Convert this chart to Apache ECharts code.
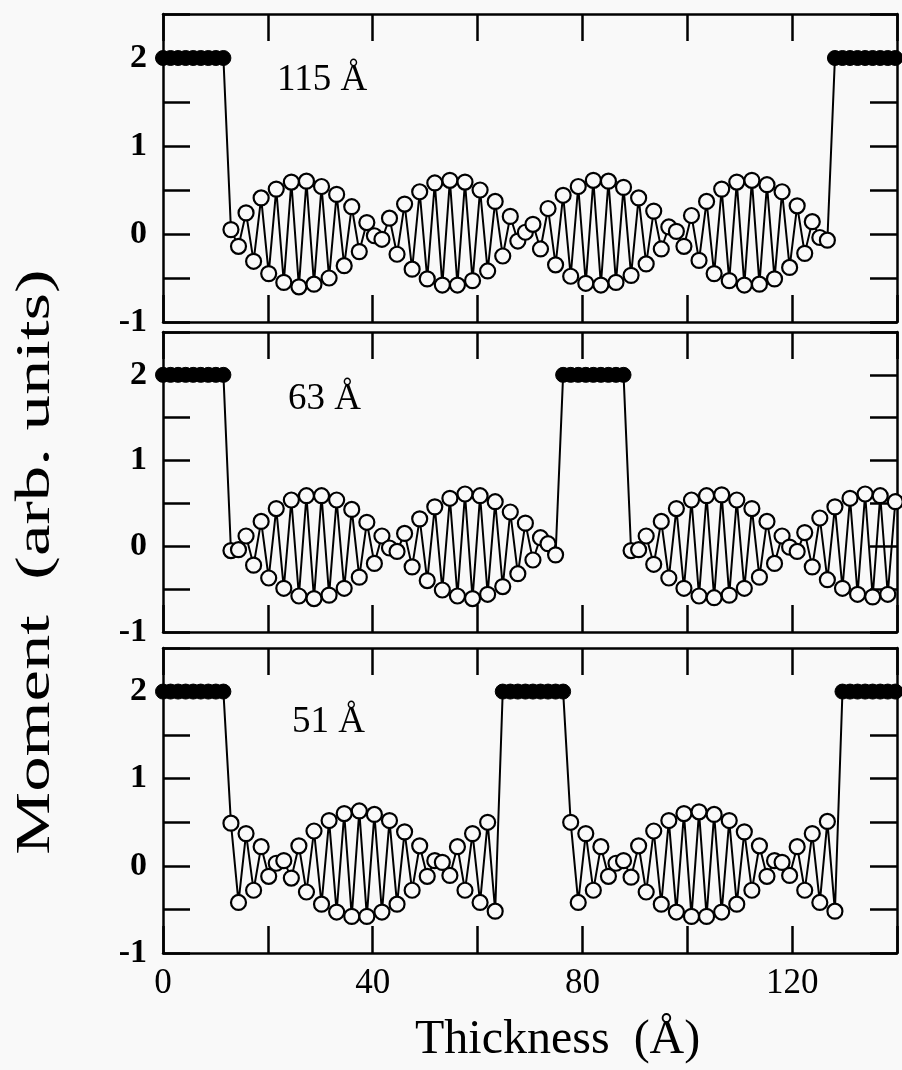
<!DOCTYPE html>
<html>
<head>
<meta charset="utf-8">
<script src="https://cdn.jsdelivr.net/npm/echarts@6/dist/echarts.min.js"></script>
<style>
html,body{margin:0;padding:0;background:#f9f9f9;}
#chart{width:902px;height:1070px;}
</style>
</head>
<body>
<div id="chart"></div>
<script>
// ---- data ----
const MONO = 1.44;                 // monolayer spacing along thickness (Å)
const xTicks = [0, 40, 80, 120];   // labelled thickness ticks
const yTicks = [-1, 0, 1, 2];      // labelled moment ticks
const panelLabels = ['115 Å', '63 Å', '51 Å'];

const fe = [2, 2, 2, 2, 2, 2, 2, 2, 2];   // Fe layer moments

const cr115 = [0.05, -0.14, 0.24, -0.31, 0.41, -0.45, 0.51, -0.55, 0.59, -0.60,
  0.60, -0.57, 0.54, -0.50, 0.45, -0.36, 0.31, -0.20, 0.13, -0.02,
  -0.06, 0.18, -0.23, 0.34, -0.40, 0.48, -0.51, 0.58, -0.58, 0.61,
  -0.58, 0.59, -0.53, 0.50, -0.42, 0.37, -0.25, 0.20, -0.08, 0.02,
  0.11, -0.17, 0.29, -0.35, 0.44, -0.48, 0.54, -0.56, 0.61, -0.58,
  0.60, -0.55, 0.53, -0.47, 0.41, -0.34, 0.26, -0.17, 0.08, 0.03,
  -0.14, 0.21, -0.30, 0.37, -0.45, 0.51, -0.53, 0.59, -0.58, 0.61,
  -0.57, 0.56, -0.51, 0.48, -0.38, 0.32, -0.22, 0.14, -0.04, -0.07];

const cr63a = [-0.05, -0.04, 0.12, -0.22, 0.29, -0.37, 0.44, -0.49, 0.54, -0.58,
  0.59, -0.61, 0.59, -0.57, 0.54, -0.49, 0.43, -0.36, 0.28, -0.20,
  0.12, -0.02, -0.06, 0.15, -0.24, 0.32, -0.40, 0.46, -0.51, 0.56,
  -0.58, 0.61, -0.61, 0.59, -0.56, 0.52, -0.47, 0.40, -0.32, 0.27,
  -0.16, 0.10, 0.03, -0.10];

const cr63b = [-0.05, -0.04, 0.12, -0.21, 0.29, -0.37, 0.44, -0.49, 0.54, -0.58,
  0.59, -0.60, 0.60, -0.57, 0.54, -0.49, 0.44, -0.36, 0.29, -0.20,
  0.12, -0.01, -0.06, 0.16, -0.24, 0.33, -0.39, 0.46, -0.49, 0.56,
  -0.56, 0.61, -0.59, 0.59, -0.56, 0.52];

const cr51a = [0.49, -0.42, 0.37, -0.28, 0.22, -0.12, 0.03, 0.06, -0.14, 0.23,
  -0.30, 0.40, -0.44, 0.52, -0.53, 0.60, -0.58, 0.63, -0.58, 0.59,
  -0.53, 0.52, -0.44, 0.39, -0.28, 0.23, -0.12, 0.06, 0.04, -0.11,
  0.22, -0.28, 0.37, -0.42, 0.50, -0.52];

const cr51b = [0.50, -0.42, 0.37, -0.28, 0.22, -0.12, 0.03, 0.06, -0.13, 0.23,
  -0.30, 0.40, -0.44, 0.52, -0.53, 0.60, -0.58, 0.62, -0.58, 0.59,
  -0.53, 0.52, -0.44, 0.39, -0.28, 0.23, -0.12, 0.06, 0.04, -0.11,
  0.22, -0.28, 0.37, -0.42, 0.51, -0.52];

// layer stacks per panel (material, moments)
const stacks = [
  [['Fe', fe], ['Cr', cr115], ['Fe', fe]],
  [['Fe', fe], ['Cr', cr63a], ['Fe', fe], ['Cr', cr63b]],
  [['Fe', fe], ['Cr', cr51a], ['Fe', fe], ['Cr', cr51b], ['Fe', fe]]
];

// ---- build ----
const grids = [
  {left: 163, top: 14, width: 734, height: 308},
  {left: 163, top: 332, width: 734, height: 300},
  {left: 163, top: 648, width: 734, height: 305}
];
const FONT = '"Liberation Serif", "Times New Roman", serif';
const BLACK = '#000';

const xAxes = [], yAxes = [], series = [];
grids.forEach((g, gi) => {
  ['bottom', 'top'].forEach(pos => {
    xAxes.push({
      gridIndex: gi, type: 'value', min: 0, max: 140, interval: 20, position: pos,
      axisLine: {show: true, onZero: false, lineStyle: {color: BLACK, width: 2.5}},
      axisTick: {show: true, inside: true, length: 27, lineStyle: {color: BLACK, width: 2.5}},
      splitLine: {show: false},
      axisLabel: {
        show: gi === 2 && pos === 'bottom', margin: 13, color: BLACK,
        fontFamily: FONT, fontSize: 35,
        formatter: v => xTicks.includes(v) ? String(v) : ''
      }
    });
  });
  ['left', 'right'].forEach(pos => {
    yAxes.push({
      gridIndex: gi, type: 'value', min: -1, max: 2.5, interval: 0.5, position: pos,
      axisLine: {show: true, onZero: false, lineStyle: {color: BLACK, width: 2.5}},
      axisTick: {show: true, inside: true, length: 27, lineStyle: {color: BLACK, width: 2.5}},
      splitLine: {show: false},
      axisLabel: {
        show: pos === 'left', margin: 16, color: BLACK,
        fontFamily: FONT, fontSize: 34, fontWeight: 'bold',
        formatter: v => yTicks.includes(v) ? String(v) : ''
      }
    });
  });

  const linePts = [], crPts = [], fePts = [];
  let idx = 0;
  stacks[gi].forEach(([mat, vals]) => {
    vals.forEach(v => {
      const p = [idx * MONO, v];
      linePts.push(p);
      (mat === 'Fe' ? fePts : crPts).push(p);
      idx++;
    });
  });
  const xi = gi * 2, yi = gi * 2;
  series.push({
    type: 'line', xAxisIndex: xi, yAxisIndex: yi, data: linePts,
    showSymbol: false, symbol: 'none', silent: true, z: 2,
    lineStyle: {color: BLACK, width: 2}
  });
  series.push({
    type: 'scatter', xAxisIndex: xi, yAxisIndex: yi, data: fePts,
    symbol: 'circle', symbolSize: 15, z: 3, silent: true,
    itemStyle: {color: BLACK, borderColor: BLACK, borderWidth: 1, opacity: 1}
  });
  series.push({
    type: 'scatter', xAxisIndex: xi, yAxisIndex: yi, data: crPts,
    symbol: 'circle', symbolSize: 15, z: 4, silent: true,
    itemStyle: {color: '#f9f9f9', borderColor: BLACK, borderWidth: 2.2, opacity: 1}
  });
});

const chart = echarts.init(document.getElementById('chart'), null, {renderer: 'canvas'});
chart.setOption({
  backgroundColor: '#f9f9f9',
  animation: false,
  grid: grids,
  xAxis: xAxes,
  yAxis: yAxes,
  series: series,
  graphic: [
    {type: 'text', left: 277, top: 62, style: {text: panelLabels[0], font: '37px ' + FONT, fill: BLACK}},
    {type: 'text', left: 288, top: 381, style: {text: panelLabels[1], font: '37px ' + FONT, fill: BLACK}},
    {type: 'text', left: 292, top: 704, style: {text: panelLabels[2], font: '37px ' + FONT, fill: BLACK}},
    {type: 'text', left: 415, top: 1016, style: {text: 'Thickness  (Å)', font: '48px ' + FONT, fill: BLACK}},
    {type: 'text', x: 36, y: 562, rotation: Math.PI / 2, scaleX: 1.36, scaleY: 0.95,
     style: {text: 'Moment  (arb. units)', font: '52px ' + FONT, fill: BLACK, align: 'center', verticalAlign: 'middle'}}
  ]
});
</script>
</body>
</html>
